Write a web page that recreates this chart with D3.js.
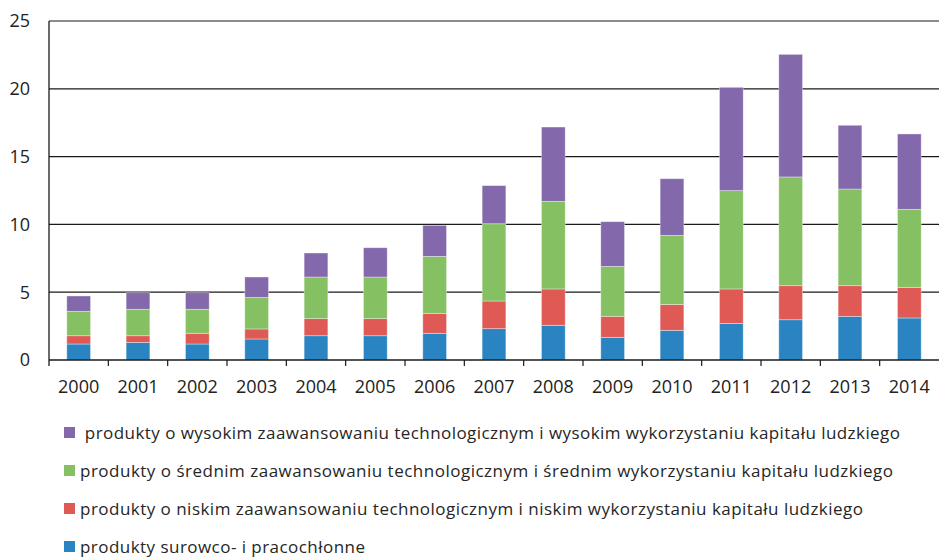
<!DOCTYPE html>
<html>
<head>
<meta charset="utf-8">
<script src="https://cdn.jsdelivr.net/npm/d3@7"></script>
<style>
  body { margin: 0; background: #fff; }
  svg { font-family: "Open Sans", sans-serif; }
  .legend text { white-space: pre; }
</style>
</head>
<body>
<svg id="chart" width="939" height="559"></svg>
<script>
// --- data ---
const years = ['2000','2001','2002','2003','2004','2005','2006','2007','2008','2009','2010','2011','2012','2013','2014'];
const rawLabour = [1.18,1.30,1.18,1.55,1.79,1.79,1.97,2.31,2.56,1.67,2.19,2.70,2.97,3.22,3.10];
const lowTech   = [0.61,0.49,0.79,0.74,1.26,1.26,1.47,2.04,2.68,1.55,1.91,2.54,2.51,2.26,2.26];
const midTech   = [1.80,1.95,1.77,2.33,3.07,3.07,4.20,5.70,6.46,3.68,5.09,7.25,8.02,7.13,5.75];
const highTech  = [1.13,1.22,1.22,1.50,1.77,2.16,2.29,2.81,5.48,3.30,4.18,7.62,9.04,4.70,5.56];
const yTicks = [0, 5, 10, 15, 20, 25];
const seriesNames = [
  'produkty surowco- i pracochłonne',
  'produkty o niskim zaawansowaniu technologicznym i niskim wykorzystaniu kapitału ludzkiego',
  'produkty o średnim zaawansowaniu technologicznym i średnim wykorzystaniu kapitału ludzkiego',
  ' produkty o wysokim zaawansowaniu technologicznym i wysokim wykorzystaniu kapitału ludzkiego'
];
const colors = ['#2a84c2', '#e05a55', '#85c062', '#8468ac'];

const size = { left: 49, top: 21, width: 890, height: 339 };
const svg = d3.select('#chart');
const g = svg.append('g').attr('transform', `translate(${size.left},${size.top})`);

const x = d3.scaleBand().domain(years).range([0, size.width]).paddingInner(0.6).paddingOuter(0.3);
const xb = d3.scaleBand().domain(years).range([0, size.width]); // category borders for ticks
const y = d3.scaleLinear().domain([0, 25]).range([size.height, 0]);

const table = years.map((yr, i) => ({ year: yr, s0: rawLabour[i], s1: lowTech[i], s2: midTech[i], s3: highTech[i] }));
const stack = d3.stack().keys(['s0', 's1', 's2', 's3'])(table);

// grid
g.selectAll('.grid').data(yTicks.filter(d => d > 0)).join('line')
  .attr('x1', 0).attr('x2', size.width)
  .attr('y1', d => y(d)).attr('y2', d => y(d))
  .attr('stroke', '#1a1a1a').attr('stroke-width', 1.2);

// y labels
g.selectAll('.ylab').data(yTicks).join('text')
  .attr('x', -19).attr('y', d => y(d)).attr('dy', '0.36em')
  .attr('text-anchor', 'end').attr('font-size', 18).attr('fill', '#222')
  .text(d => d);

// bars
g.selectAll('.series').data(stack).join('g')
  .attr('fill', (d, i) => colors[i])
  .selectAll('rect').data(d => d).join('rect')
  .attr('x', d => x(d.data.year))
  .attr('width', x.bandwidth())
  .attr('y', d => y(d[1]))
  .attr('height', d => y(d[0]) - y(d[1]))
  .attr('stroke', 'rgba(255,255,255,0.45)').attr('stroke-width', 0.8);

// axes lines
g.append('line').attr('x1', 0).attr('x2', 0).attr('y1', 0).attr('y2', size.height + 6)
  .attr('stroke', '#1a1a1a').attr('stroke-width', 1.3);
g.append('line').attr('x1', 0).attr('x2', size.width).attr('y1', size.height).attr('y2', size.height)
  .attr('stroke', '#1a1a1a').attr('stroke-width', 1.3);
g.selectAll('.xtick').data(years.slice(1)).join('line')
  .attr('x1', d => xb(d)).attr('x2', d => xb(d))
  .attr('y1', size.height).attr('y2', size.height + 6)
  .attr('stroke', '#1a1a1a').attr('stroke-width', 1.2);
g.selectAll('.xlab').data(years).join('text')
  .attr('x', d => xb(d) + xb.bandwidth() / 2).attr('y', size.height + 33)
  .attr('text-anchor', 'middle').attr('font-size', 18).attr('fill', '#222')
  .text(d => d);

// legend (top to bottom: high, mid, low, raw)
const legendEnds = [365, 863, 893, 900];
const legend = svg.append('g').attr('class', 'legend');
[3, 2, 1, 0].forEach((si, r) => {
  const by = 438 + r * 38;
  legend.append('rect').attr('x', 64).attr('y', by - 11).attr('width', 11).attr('height', 11).attr('fill', colors[si]);
  legend.append('text').attr('x', 80).attr('y', by + 1)
    .attr('font-size', 17).attr('fill', '#262626')
    .attr('textLength', legendEnds[si] - 80).attr('lengthAdjust', 'spacing')
    .text(seriesNames[si]);
});
</script>
</body>
</html>
